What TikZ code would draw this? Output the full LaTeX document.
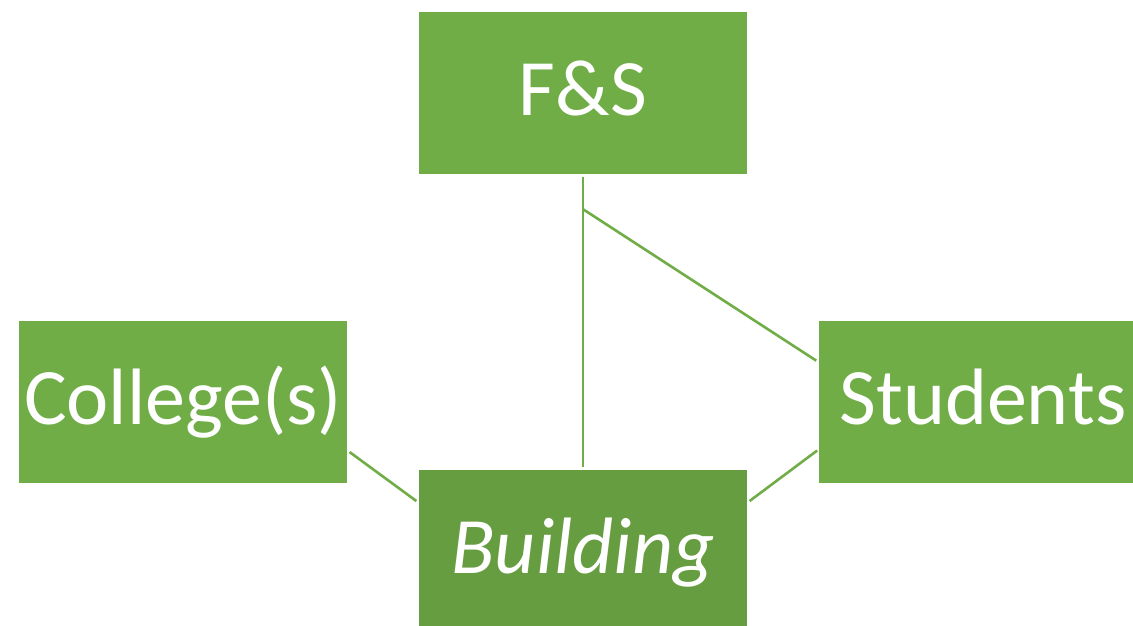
\documentclass[tikz,border=0pt]{standalone}
\usepackage{fontspec}
\setmainfont{Carlito}
\usetikzlibrary{calc}
\definecolor{boxgreen}{HTML}{70AD47}
\definecolor{darkgreen}{HTML}{679D41}
\begin{document}
\begin{tikzpicture}[x=1pt,y=-1pt,
  box/.style={rectangle, fill=boxgreen, text=white, minimum width=328pt, minimum height=162pt,
    inner sep=0pt, text height=45pt, text depth=0pt, font=\fontsize{80}{90}\selectfont},
  link/.style={draw=boxgreen, line width=2.6pt}]
\useasboundingbox (0,0) rectangle (1133,626);
\clip (0,0) rectangle (1133,626);
\node[box] (fs) at (583,93) {F\&S};
\node[box] (col) at (183,401.5) {College(s)};
\node[box] (st) at (983,401.5) {Students};
\node[box, fill=darkgreen] (bd) at (583,551) {\itshape Building};
\coordinate (j) at ($(fs.south)+(0,35)$);
\draw[link, shorten <=3pt, shorten >=3pt] (fs.south) -- (bd.north);
\draw[link, shorten >=3pt] (j) -- ($(st.north west)+(0,42)$);
\draw[link, shorten <=3pt, shorten >=3pt] ($(col.north east)+(0,130)$) -- ($(bd.north west)+(0,33)$);
\draw[link, shorten <=2pt, shorten >=3pt] ($(st.north west)+(0,129)$) -- ($(bd.north east)+(0,33)$);
\end{tikzpicture}
\end{document}
